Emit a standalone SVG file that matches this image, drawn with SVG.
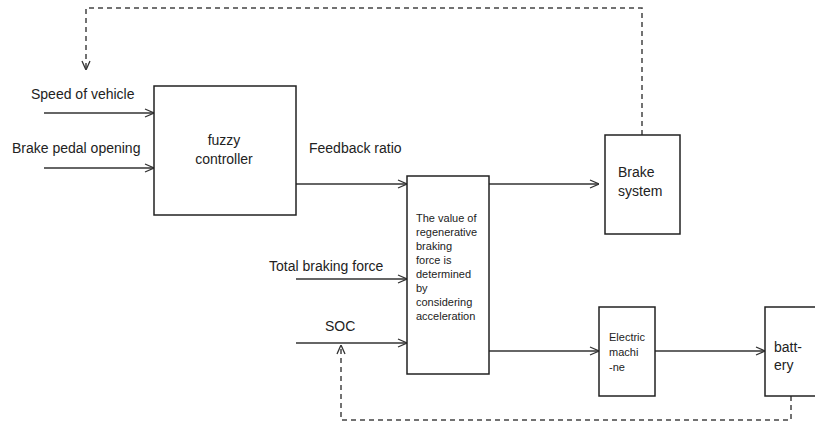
<svg xmlns="http://www.w3.org/2000/svg" width="815" height="423" viewBox="0 0 815 423">
<defs>
<marker id="ah" viewBox="0 0 10 10" refX="10" refY="5" markerWidth="10" markerHeight="10" markerUnits="userSpaceOnUse" orient="auto">
<path d="M1,1 L10,5 L1,9" fill="none" stroke="#333" stroke-width="1.3"/>
</marker>
</defs>
<style>
.box{fill:#fff;stroke:#222;stroke-width:1.5}
.ln{fill:none;stroke:#333;stroke-width:1.5}
.dash{fill:none;stroke:#444;stroke-width:1.5;stroke-dasharray:5,4}
.t{font-family:"Liberation Sans",Arial,sans-serif;fill:#222}
.lg{font-size:14px}
.sm{font-size:11px}
</style>
<rect width="815" height="423" fill="#fff"/>
<g id="connectors">
<line class="ln" x1="44" y1="113" x2="154" y2="113" marker-end="url(#ah)"/>
<line class="ln" x1="44" y1="168" x2="154" y2="168" marker-end="url(#ah)"/>
<line class="ln" x1="296" y1="184" x2="407" y2="184" marker-end="url(#ah)"/>
<line class="ln" x1="296" y1="279" x2="407" y2="279" marker-end="url(#ah)"/>
<line class="ln" x1="296" y1="343" x2="407" y2="343" marker-end="url(#ah)"/>
<line class="ln" x1="489" y1="184" x2="599" y2="184" marker-end="url(#ah)"/>
<line class="ln" x1="489" y1="351" x2="599" y2="351" marker-end="url(#ah)"/>
<line class="ln" x1="655" y1="351" x2="765" y2="351" marker-end="url(#ah)"/>
<polyline class="dash" points="642,135 642,8 86,8 86,70" marker-end="url(#ah)"/>
<polyline class="dash" points="791,396 791,420 341,420 341,345" marker-end="url(#ah)"/>
</g>
<g id="labels">
<text class="t lg" x="31" y="99">Speed of vehicle</text>
<text class="t lg" x="12" y="153">Brake pedal opening</text>
<text class="t lg" x="309" y="153">Feedback ratio</text>
<text class="t lg" x="269" y="271">Total braking force</text>
<text class="t lg" x="325" y="331">SOC</text>
</g>
<g id="fuzzy">
<rect class="box" x="154" y="86" width="142" height="129"/>
<text class="t lg" x="224" y="145" text-anchor="middle">fuzzy</text>
<text class="t lg" x="224" y="164" text-anchor="middle">controller</text>
</g>
<g id="regen">
<rect class="box" x="407" y="176" width="82" height="198"/>
<text class="t sm" x="416">
<tspan x="416" y="222">The value of</tspan>
<tspan x="416" y="236">regenerative</tspan>
<tspan x="416" y="250">braking</tspan>
<tspan x="416" y="264">force is</tspan>
<tspan x="416" y="278">determined</tspan>
<tspan x="416" y="292">by</tspan>
<tspan x="416" y="306">considering</tspan>
<tspan x="416" y="320">acceleration</tspan>
</text>
</g>
<g id="brake">
<rect class="box" x="605" y="135" width="75" height="99"/>
<text class="t lg" x="618" y="177">Brake</text>
<text class="t lg" x="618" y="196">system</text>
</g>
<g id="motor">
<rect class="box" x="599" y="307" width="56" height="89"/>
<text class="t sm" x="609" y="341">Electric</text>
<text class="t sm" x="609" y="356">machi</text>
<text class="t sm" x="609" y="371">-ne</text>
</g>
<g id="battery">
<rect class="box" x="765" y="307" width="60" height="89"/>
<text class="t lg" x="774" y="352">batt-</text>
<text class="t lg" x="774" y="370">ery</text>
</g>
</svg>
